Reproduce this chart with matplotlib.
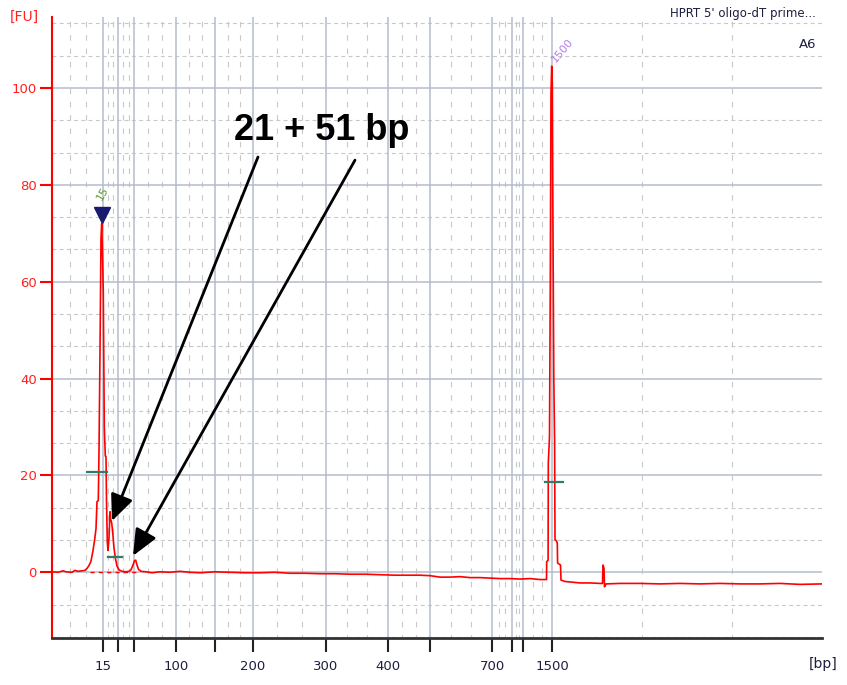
import numpy as np
import matplotlib
matplotlib.use("Agg")
from matplotlib import pyplot as plt

# ladder peaks: size (bp) and migration position (arbitrary units)
ladder_bp = [15, 25, 50, 100, 150, 200, 300, 400, 500, 700, 850, 1000, 1500]
ladder_pos = [103, 118, 134, 176, 215, 253, 326, 388, 430, 492, 512, 523, 552]
labeled_bp = [15, 100, 200, 300, 400, 700, 1500]

# electropherogram trace
trace_x = [52, 58, 63, 66, 72, 75, 78, 82, 85, 87, 89, 91, 93, 94.5, 96, 97, 98.3, 99,
           100, 101, 101.7, 102.6, 103.3, 104.3, 105.3, 106, 106.5, 107.3, 108, 109,
           110, 110.6, 111.7, 112.8, 114, 115.5, 117, 119, 122, 126, 129, 131, 133,
           134.5, 135.7, 137, 138.5, 141, 146, 152, 160, 170, 180, 190, 200, 215, 230,
           245, 260, 275, 290, 305, 320, 335, 350, 365, 380, 395, 410, 420, 430, 440,
           450, 460, 470, 480, 490, 500, 510, 520, 530, 540, 546.5,
           546.7, 548.1, 548.3, 549.5, 550.3, 551, 551.7, 552.3, 553, 553.8, 554.6,
           555, 556.5, 557.3, 557.6, 560.5, 561, 565, 570, 575, 580, 590, 600,
           602.5, 603, 604, 604.5, 606, 620, 640, 660, 680, 700, 720, 740, 760, 780,
           800, 822]
trace_fu = [0.1, 0.0, 0.3, 0.1, 0.0, 0.4, 0.2, 0.3, 0.4, 0.8, 1.4, 2.3, 4.5, 6.5, 9, 14.6,
            14.8, 25, 45.5, 69, 72, 65, 57.6, 30, 24, 23.9, 15, 6.3, 4.5, 7,
            12.5, 11, 10.2, 8, 5, 2.8, 1.3, 0.5, 0.2, 0.1, 0.2, 0.5, 1.5,
            2.4, 2.5, 1.5, 0.6, 0.2, 0.1, -0.1, 0.1, 0.0, 0.2, 0.0, -0.1, 0.1, 0.0,
            -0.1, -0.1, 0.0, -0.2, -0.2, -0.3, -0.3, -0.4, -0.4, -0.5, -0.6, -0.6, -0.6, -0.7, -1.0,
            -1.0, -0.9, -1.1, -1.1, -1.2, -1.3, -1.3, -1.4, -1.3, -1.5, -1.5,
            2.2, 2.5, 22.6, 28, 60, 99, 104.5, 101, 70, 40, 27,
            6.7, 6.5, 6.0, 1.9, 1.5, -1.6, -1.9, -2.0, -2.1, -2.2, -2.2, -2.3,
            -2.3, 1.5, 0.8, -3.0, -2.4, -2.3, -2.3, -2.4, -2.3, -2.4, -2.3, -2.4, -2.4, -2.3,
            -2.5, -2.4]

# peak-width markers (start, end, level)
marker_x0 = [87, 108, 545]
marker_x1 = [107, 122, 563]
marker_fu = [20.8, 3.1, 18.6]

grid_major = "#b4bccc"
grid_minor = "#c8c8c8"
navy = "#1e1e40"

fig = plt.figure(figsize=(8.47, 6.85), dpi=100)
ax = fig.add_axes([52/847, 47/685, 770/847, 621/685])
ax.set_xlim(52, 822)
ax.set_ylim(-13.57, 114.66)

# minor grid: thirds between ladder positions
minor_x = list(ladder_pos[0] - 16.7*np.arange(1, 3))
for a, b in zip(ladder_pos[:-1], ladder_pos[1:]):
    minor_x += list(np.linspace(a, b, 4)[1:3])
minor_x += [ladder_pos[-1] + 90, ladder_pos[-1] + 180]
for x in minor_x:
    ax.axvline(x, color=grid_minor, lw=0.8, ls=(2, (5, 7)), zorder=0)
for k in range(-2, 18):
    if k % 3 != 0:
        ax.axhline(k*20/3, color=grid_minor, lw=0.8, ls=(0, (3.5, 3)), zorder=0)
for v in range(0, 101, 20):
    ax.axhline(v, color=grid_major, lw=1.1, zorder=0)
for x in ladder_pos:
    ax.axvline(x, color=grid_major, lw=1.1, zorder=0)

# trace
ax.plot([90, 140], [0, 0], color="red", lw=1, ls=(0, (3, 3)), zorder=2)
ax.plot(trace_x, trace_fu, color="#ff0000", lw=1.2, zorder=3)
for x0, x1, y in zip(marker_x0, marker_x1, marker_fu):
    ax.plot([x0, x1], [y, y], color="#2e7d6b", lw=1.6, zorder=4)

# peak labels
ax.plot(ladder_pos[0] - 1, 73.8, marker="v", ms=11, color="#1a1a6e", zorder=5)
ax.text(102.5, 78.3, "15", rotation=60, color="#5a9e2a", fontsize=8,
        ha="center", va="center", zorder=5)
ax.text(563, 107.8, "1500", rotation=50, color="#b47cf0", fontsize=8,
        ha="center", va="center", zorder=5)

# annotation
ax.text(322, 91.3, "21 + 51 bp", fontsize=26, fontweight="bold",
        family="Liberation Sans", ha="center", va="center", zorder=6)
arrow = dict(arrowstyle="-|>,head_length=0.8,head_width=0.35", color="black",
             lw=2, mutation_scale=20, shrinkA=0, shrinkB=0)
ax.annotate("", xy=(112, 10.6), xytext=(258, 85.75), arrowprops=arrow, zorder=6)
ax.annotate("", xy=(133, 3.4), xytext=(355, 85.1), arrowprops=arrow, zorder=6)

# axes styling
for s in ["top", "right"]:
    ax.spines[s].set_visible(False)
ax.spines["left"].set_color("red")
ax.spines["left"].set_linewidth(1.5)
ax.spines["bottom"].set_color("#333333")
ax.spines["bottom"].set_linewidth(2)
ax.set_yticks(range(0, 101, 20))
ax.tick_params(axis="y", colors="red", length=9, width=1.5, labelsize=9.5,
               labelcolor="#ff2020", pad=2)
ax.set_xticks(ladder_pos)
ax.set_xticklabels([str(b) if b in labeled_bp else "" for b in ladder_bp])
ax.tick_params(axis="x", colors="#222222", length=10, width=1.5, labelsize=9.5,
               labelcolor=navy, pad=6)

fig.text(24/847, 1 - 17/685, "[FU]", color="#ff2020", fontsize=10, ha="center", va="center")
fig.text(823/847, 1 - 664/685, "[bp]", color=navy, fontsize=10, ha="center", va="center")
fig.text(816/847, 1 - 13/685, "HPRT 5' oligo-dT prime...", color=navy, fontsize=8.5,
         ha="right", va="center")
fig.text(816/847, 1 - 44/685, "A6", color=navy, fontsize=9.5, ha="right", va="center")

fig.savefig("out.png", dpi=100)
